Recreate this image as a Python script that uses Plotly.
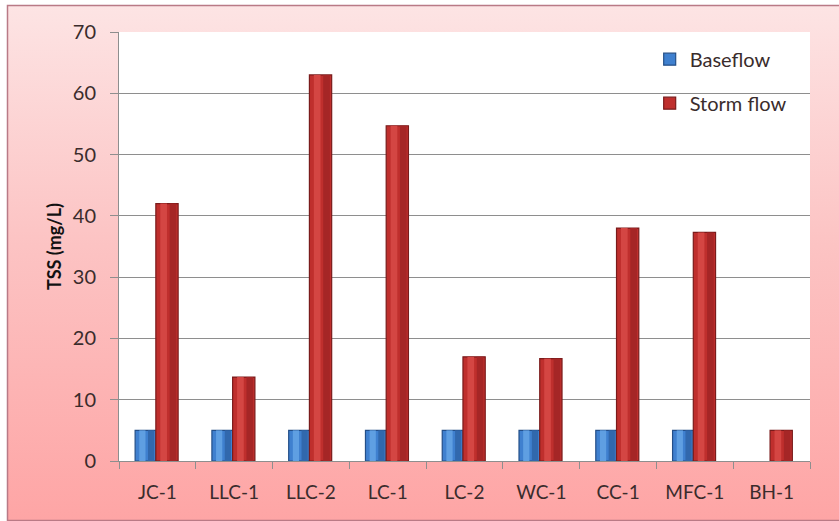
import base64
import plotly.graph_objects as go

# Sampling sites and TSS concentrations (mg/L)
sites = ["JC-1", "LLC-1", "LLC-2", "LC-1", "LC-2", "WC-1", "CC-1", "MFC-1", "BH-1"]
baseflow = [5, 5, 5, 5, 5, 5, 5, 5, None]
stormflow = [42, 13.7, 63, 54.7, 17, 16.7, 38, 37.3, 5]
y_ticks = [0, 10, 20, 30, 40, 50, 60, 70]

W, H = 839, 521
ML, MR, MT, MB = 119, 29, 32, 60
PW, PH = W - ML - MR, H - MT - MB

TEXT = "#3a2c2c"
FONT = "Lato"

# Chart-area backdrop: pink vertical gradient with a thin border, white plot area
svg = f"""<svg xmlns='http://www.w3.org/2000/svg' width='{W}' height='{H}' viewBox='0 0 {W} {H}' preserveAspectRatio='none'>
<defs><linearGradient id='g' x1='0' y1='0' x2='0' y2='1'>
<stop offset='0' stop-color='#fde4e4'/><stop offset='0.45' stop-color='#fcc4c4'/>
<stop offset='1' stop-color='#fea5a5'/></linearGradient></defs>
<rect x='0' y='0' width='{W}' height='{H}' fill='#ffffff'/>
<rect x='7.5' y='5.5' width='{W}' height='{H - 6}' fill='url(#g)' stroke='#b97a86' stroke-width='1.5'/>
<rect x='{ML}' y='{MT}' width='{PW}' height='{PH}' fill='#ffffff'/>
</svg>"""
bg_src = "data:image/svg+xml;base64," + base64.b64encode(svg.encode()).decode()

fig = go.Figure()


def add_series(name, values, offset, width, mid, dark, light, shade):
    # base body with dark outline (carries the legend entry)
    fig.add_trace(go.Bar(
        x=sites, y=values, name=name, offset=offset, width=width,
        marker=dict(color=mid, line=dict(color=dark, width=1.2)),
        legendgroup=name, showlegend=True,
    ))
    # darker right-hand shading
    fig.add_trace(go.Bar(
        x=sites, y=values, offset=offset + width * 0.62, width=width * 0.3,
        marker=dict(color=shade, line=dict(width=0)),
        legendgroup=name, showlegend=False, hoverinfo="skip",
    ))
    # lighter highlight band
    fig.add_trace(go.Bar(
        x=sites, y=values, offset=offset + width * 0.2, width=width * 0.3,
        marker=dict(color=light, line=dict(width=0)),
        legendgroup=name, showlegend=False, hoverinfo="skip",
    ))


add_series("Baseflow", baseflow, -0.29, 0.27, "#3f80cf", "#244f88", "#5f9fe2", "#3168ad")
add_series("Storm flow", stormflow, -0.02, 0.29, "#bf2f2d", "#7a1b1b", "#d44643", "#a52626")

fig.update_layout(
    width=W, height=H,
    margin=dict(l=ML, r=MR, t=MT, b=MB, pad=0),
    paper_bgcolor="rgba(0,0,0,0)",
    plot_bgcolor="rgba(0,0,0,0)",
    barmode="overlay",
    font=dict(family=FONT, color=TEXT, size=19),
    images=[dict(
        source=bg_src, xref="paper", yref="paper",
        x=-ML / PW, y=1 + MT / PH, xanchor="left", yanchor="top",
        sizex=W / PW, sizey=H / PH, sizing="stretch", layer="below",
    )],
    legend=dict(
        x=0.768, y=0.982, xanchor="left", yanchor="top",
        bgcolor="rgba(0,0,0,0)", font=dict(size=20, color=TEXT, family=FONT),
        tracegroupgap=15, itemwidth=30,
    ),
    showlegend=True,
)

fig.update_xaxes(
    type="category", range=[-0.5, len(sites) - 0.5],
    showline=True, linecolor="#8e8e8e", linewidth=1,
    ticks="outside", tickson="boundaries", ticklen=7, tickcolor="#8e8e8e",
    tickfont=dict(size=19, color=TEXT, family=FONT),
    ticklabelstandoff=14, showgrid=False, fixedrange=True,
)
fig.update_yaxes(
    range=[0, 70], tickvals=y_ticks,
    showline=True, linecolor="#8e8e8e", linewidth=1,
    ticks="outside", ticklen=8, tickcolor="#8e8e8e",
    tickfont=dict(size=20, color=TEXT, family=FONT),
    ticklabelstandoff=10,
    showgrid=True, gridcolor="#8e8e8e", gridwidth=1, zeroline=False,
    title=dict(text="<b>TSS (mg/L)</b>", font=dict(size=18, color="#111111", family=FONT), standoff=6),
)

fig.write_html("out.html")
